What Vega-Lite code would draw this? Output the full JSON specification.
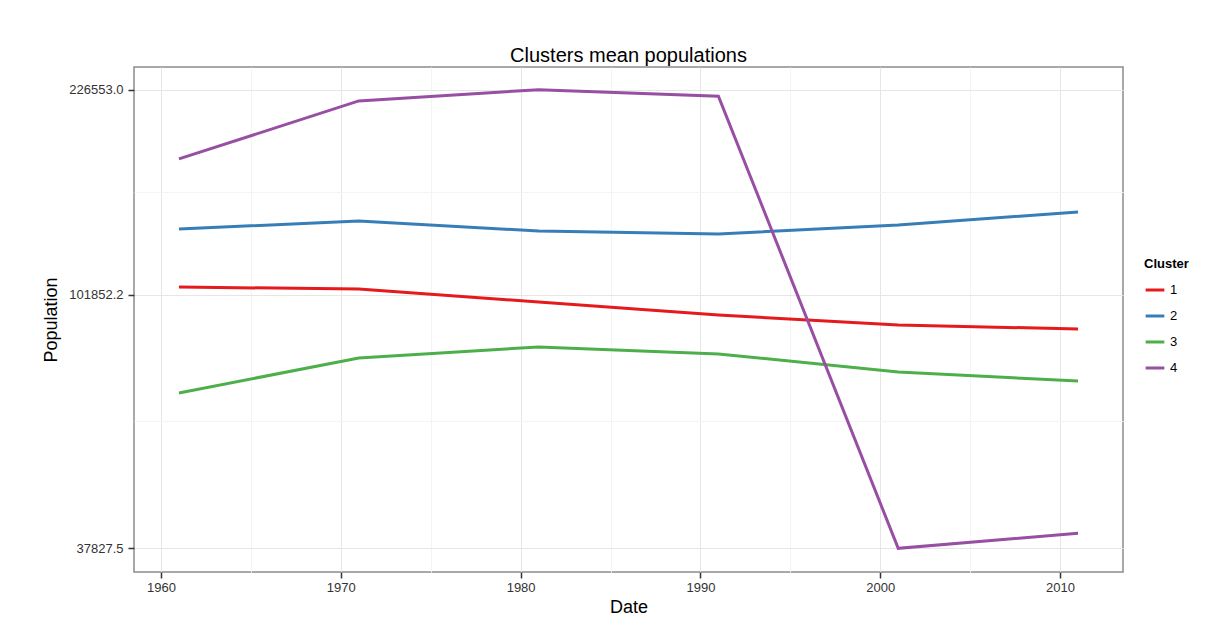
{
  "$schema": "https://vega.github.io/schema/vega-lite/v6.json",
  "autosize": {"type": "none"},
  "width": 989,
  "height": 505,
  "padding": {"left": 134, "top": 67, "right": 95, "bottom": 52},
  "background": "white",
  "title": {
    "text": "Clusters mean populations",
    "font": "Liberation Sans",
    "fontSize": 20,
    "fontWeight": "normal",
    "color": "#000000",
    "anchor": "middle",
    "offset": 1
  },
  "config": {
    "font": "Liberation Sans",
    "view": {"stroke": "#8c8c8c", "strokeWidth": 1.5}
  },
  "data": {
    "values": [
      {"Date": 1961, "Population": 104880, "Cluster": "1"},
      {"Date": 1971, "Population": 104060, "Cluster": "1"},
      {"Date": 1981, "Population": 98930, "Cluster": "1"},
      {"Date": 1991, "Population": 94040, "Cluster": "1"},
      {"Date": 2001, "Population": 90440, "Cluster": "1"},
      {"Date": 2011, "Population": 89040, "Cluster": "1"},
      {"Date": 1961, "Population": 131500, "Cluster": "2"},
      {"Date": 1971, "Population": 135700, "Cluster": "2"},
      {"Date": 1981, "Population": 130500, "Cluster": "2"},
      {"Date": 1991, "Population": 129000, "Cluster": "2"},
      {"Date": 2001, "Population": 133600, "Cluster": "2"},
      {"Date": 2011, "Population": 140600, "Cluster": "2"},
      {"Date": 1961, "Population": 69340, "Cluster": "3"},
      {"Date": 1971, "Population": 79530, "Cluster": "3"},
      {"Date": 1981, "Population": 82990, "Cluster": "3"},
      {"Date": 1991, "Population": 80780, "Cluster": "3"},
      {"Date": 2001, "Population": 75260, "Cluster": "3"},
      {"Date": 2011, "Population": 72680, "Cluster": "3"},
      {"Date": 1961, "Population": 172900, "Cluster": "4"},
      {"Date": 1971, "Population": 216800, "Cluster": "4"},
      {"Date": 1981, "Population": 226553, "Cluster": "4"},
      {"Date": 1991, "Population": 220900, "Cluster": "4"},
      {"Date": 2001, "Population": 37827.5, "Cluster": "4"},
      {"Date": 2011, "Population": 40110, "Cluster": "4"}
    ]
  },
  "mark": {"type": "line", "strokeWidth": 3},
  "encoding": {
    "x": {
      "field": "Date",
      "type": "quantitative",
      "scale": {"domain": [1958.5, 2013.5], "nice": false, "zero": false},
      "axis": {
        "title": "Date",
        "titleFontSize": 18,
        "titleFontWeight": "normal",
        "titleColor": "#000000",
        "titlePadding": 4,
        "values": [1960, 1965, 1970, 1975, 1980, 1985, 1990, 1995, 2000, 2005, 2010],
        "labelExpr": "datum.value % 10 == 0 ? format(datum.value, 'd') : ''",
        "labelFontSize": 13,
        "labelColor": "#333333",
        "labelPadding": 3,
        "labelFlush": false,
        "domain": false,
        "tickColor": {"condition": {"test": "datum.value % 10 == 0", "value": "#333333"}, "value": "transparent"},
        "tickSize": 6,
        "tickWidth": 1.5,
        "grid": true,
        "gridColor": {"condition": {"test": "datum.value % 10 == 0", "value": "#e6e6e6"}, "value": "#f4f4f4"},
        "gridWidth": 1
      }
    },
    "y": {
      "field": "Population",
      "type": "quantitative",
      "scale": {"type": "log", "domain": [34490, 247500], "nice": false, "zero": false},
      "axis": {
        "title": "Population",
        "titleFontSize": 18,
        "titleFontWeight": "normal",
        "titleColor": "#000000",
        "titlePadding": 8,
        "values": [37827.5, 62071, 101852.2, 151904, 226553.0],
        "labelExpr": "(datum.value == 62071 || datum.value == 151904) ? '' : format(datum.value, '.1f')",
        "labelFontSize": 13,
        "labelColor": "#333333",
        "labelPadding": 5,
        "labelFlush": false,
        "domain": false,
        "tickColor": {"condition": {"test": "datum.value == 62071 || datum.value == 151904", "value": "transparent"}, "value": "#333333"},
        "tickSize": 6,
        "tickWidth": 1.5,
        "grid": true,
        "gridColor": {"condition": {"test": "datum.value == 62071 || datum.value == 151904", "value": "#f4f4f4"}, "value": "#e6e6e6"},
        "gridWidth": 1
      }
    },
    "color": {
      "field": "Cluster",
      "type": "nominal",
      "scale": {"domain": ["1", "2", "3", "4"], "range": ["#E41A1C", "#377EB8", "#4DAF4A", "#984EA3"]},
      "legend": {
        "title": "Cluster",
        "titleFontSize": 13,
        "titleFontWeight": "bold",
        "titleColor": "#000000",
        "titlePadding": 8,
        "labelFontSize": 13,
        "labelColor": "#000000",
        "symbolType": "stroke",
        "symbolStrokeWidth": 3,
        "symbolSize": 350,
        "rowPadding": 8,
        "orient": "none",
        "legendX": 1010,
        "legendY": 191
      }
    }
  }
}
